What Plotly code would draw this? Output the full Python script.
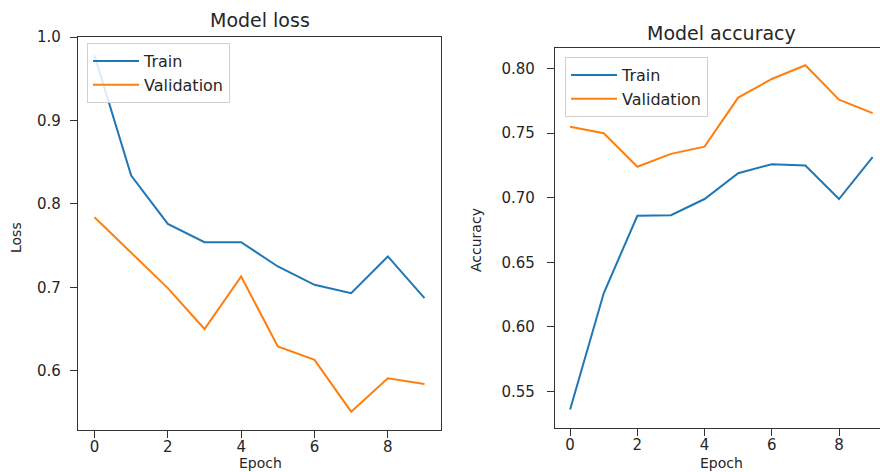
import plotly.graph_objects as go

epochs = list(range(10))

loss_train = [0.978, 0.834, 0.776, 0.754, 0.754, 0.725, 0.703, 0.693, 0.737, 0.687]
loss_val = [0.784, 0.742, 0.699, 0.650, 0.713, 0.629, 0.613, 0.551, 0.591, 0.584]

acc_train = [0.536, 0.626, 0.686, 0.6865, 0.699, 0.719, 0.726, 0.725, 0.699, 0.7315]
acc_val = [0.755, 0.750, 0.724, 0.734, 0.7396, 0.7776, 0.792, 0.8026, 0.776, 0.7655]

BLUE = "#1f77b4"
ORANGE = "#ff7f0e"
TXT = "#262626"
W, H = 880, 472


def px_x(p):
    return p / W


def px_y(p):
    return 1 - p / H


fig = go.Figure()

fig.add_trace(go.Scatter(x=epochs, y=loss_train, mode="lines", name="Train",
                         line=dict(color=BLUE, width=2), xaxis="x", yaxis="y", legend="legend"))
fig.add_trace(go.Scatter(x=epochs, y=loss_val, mode="lines", name="Validation",
                         line=dict(color=ORANGE, width=2), xaxis="x", yaxis="y", legend="legend"))
fig.add_trace(go.Scatter(x=epochs, y=acc_train, mode="lines", name="Train",
                         line=dict(color=BLUE, width=2), xaxis="x2", yaxis="y2", legend="legend2"))
fig.add_trace(go.Scatter(x=epochs, y=acc_val, mode="lines", name="Validation",
                         line=dict(color=ORANGE, width=2), xaxis="x2", yaxis="y2", legend="legend2"))

axis_common = dict(showgrid=False, zeroline=False, showline=True, linecolor="#333",
                   linewidth=1.2, ticks="outside", ticklen=7, tickcolor="#333",
                   automargin=False, tickfont=dict(size=15, color=TXT))

legend_common = dict(bgcolor="rgba(255,255,255,0.85)", bordercolor="#d0d0d0", borderwidth=1,
                     font=dict(size=16, color=TXT), xanchor="left", yanchor="top",
                     tracegroupgap=0, itemwidth=46)


def label(text, x, y, size, angle=0):
    return dict(text=text, x=px_x(x), y=px_y(y), xref="paper", yref="paper",
                showarrow=False, font=dict(size=size, color=TXT), textangle=angle,
                xanchor="center", yanchor="middle")


fig.update_layout(
    template="none",
    width=W, height=H,
    margin=dict(l=0, r=0, t=0, b=0, autoexpand=False),
    paper_bgcolor="white", plot_bgcolor="white",
    font=dict(family="DejaVu Sans", color=TXT),
    xaxis=dict(domain=[px_x(78), px_x(441)], range=[-0.45, 9.45], anchor="y",
               tickvals=[0, 2, 4, 6, 8], mirror=True, ticklabelstandoff=-4, **axis_common),
    yaxis=dict(domain=[px_y(430), px_y(37)], range=[0.529, 1.0], anchor="x",
               tickvals=[0.6, 0.7, 0.8, 0.9, 1.0], tickformat=".1f", mirror=True,
               ticklabelstandoff=6, **axis_common),
    xaxis2=dict(domain=[px_x(555), 1.0], range=[-0.45, 9.22], anchor="y2",
                tickvals=[0, 2, 4, 6, 8], mirror=True, ticklabelstandoff=-4, **axis_common),
    yaxis2=dict(domain=[px_y(428), px_y(48)], range=[0.5216, 0.816], anchor="x2",
                tickvals=[0.55, 0.60, 0.65, 0.70, 0.75, 0.80], tickformat=".2f", mirror=False,
                ticklabelstandoff=9, **axis_common),
    legend=dict(x=px_x(87), y=px_y(43), **legend_common),
    legend2=dict(x=px_x(565), y=px_y(57), **legend_common),
    annotations=[
        label("Model loss", 260, 20, 19),
        label("Model accuracy", 721, 33, 19),
        label("Loss", 16, 238, 14, -90),
        label("Accuracy", 476, 240, 14, -90),
        label("Epoch", 260, 463, 14),
        label("Epoch", 721, 463, 14),
    ],
)

# drop the browser's default 8px body margin so the figure sits at the page corner
fig.write_html("out.html", config={"displayModeBar": False},
               post_script="document.body.style.margin='0';")
